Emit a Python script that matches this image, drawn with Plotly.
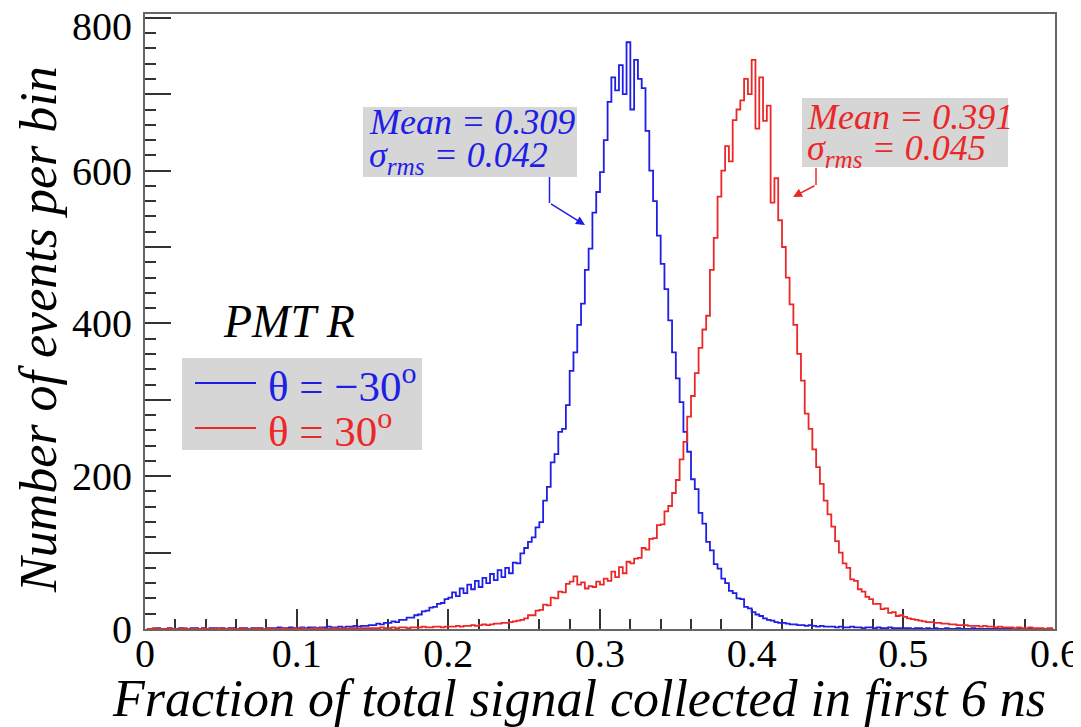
import plotly.graph_objects as go

# ---------------- data ----------------
BIN_WIDTH = 0.0025  # 240 bins from 0 to 0.6

blue_counts = [
    0, 0, 0, 1, 0, 0, 1, 0, 0, 1, 0, 0, 1, 1, 0, 1, 0, 1, 1, 0,
    1, 0, 1, 1, 0, 1, 1, 0, 1, 1, 1, 0, 1, 1, 1, 2, 1, 1, 2, 1,
    1, 2, 1, 2, 2, 1, 2, 2, 3, 2, 2, 3, 2, 3, 3, 4, 3, 4, 4, 5,
    5, 7, 6, 8, 8, 10, 9, 12, 12, 15, 15, 18, 19, 23, 24, 28, 29, 33, 34, 39,
    41, 48, 43, 53, 47, 58, 52, 63, 55, 67, 60, 72, 64, 77, 68, 80, 73, 87, 86, 99,
    106, 114, 120, 133, 140, 168, 186, 218, 229, 258, 262, 293, 338, 362, 398, 426, 470, 498, 545, 572,
    598, 640, 690, 722, 705, 738, 700, 768, 680, 745, 720, 708, 652, 600, 560, 515, 478, 445, 404, 362,
    328, 297, 258, 232, 196, 183, 152, 138, 114, 103, 85, 79, 66, 60, 50, 47, 40, 39, 29, 27,
    22, 19, 17, 14, 12, 11, 9, 8, 8, 7, 6, 6, 5, 5, 4, 5, 4, 3, 4, 3,
    3, 3, 2, 3, 2, 2, 3, 2, 2, 1, 2, 2, 1, 2, 1, 1, 2, 1, 1, 1,
    1, 1, 0, 1, 1, 0, 1, 0, 1, 0, 0, 1, 0, 0, 1, 0, 0, 0, 1, 0,
    0, 0, 0, 0, 0, 0, 0, 0, 0, 0, 0, 0, 0, 0, 0, 0, 0, 0, 0, 0,
]

red_counts = [
    0, 0, 1, 0, 0, 0, 1, 0, 0, 0, 1, 0, 0, 0, 0, 1, 0, 0, 0, 1,
    0, 0, 1, 0, 0, 1, 0, 0, 0, 1, 0, 0, 1, 0, 0, 0, 1, 0, 0, 1,
    0, 1, 0, 0, 1, 0, 1, 0, 0, 1, 1, 0, 1, 0, 1, 1, 0, 1, 1, 1,
    1, 1, 2, 1, 1, 2, 1, 2, 2, 1, 2, 2, 2, 3, 2, 2, 3, 3, 2, 3,
    3, 3, 4, 3, 4, 4, 5, 4, 5, 6, 5, 6, 7, 7, 8, 8, 9, 10, 11, 12,
    14, 18, 18, 24, 25, 32, 31, 41, 40, 49, 48, 59, 62, 69, 58, 61, 53, 56, 55, 62,
    58, 66, 63, 75, 68, 81, 73, 88, 86, 92, 93, 106, 104, 118, 119, 136, 137, 154, 161, 178,
    195, 222, 245, 278, 305, 335, 368, 392, 410, 470, 512, 566, 600, 632, 612, 666, 680, 692, 720, 700,
    745, 655, 722, 665, 685, 558, 590, 535, 500, 460, 425, 398, 360, 325, 282, 262, 235, 212, 190, 168,
    150, 134, 115, 100, 86, 80, 65, 63, 52, 49, 42, 39, 33, 33, 26, 27, 21, 22, 17, 18,
    16, 14, 13, 12, 11, 10, 9, 9, 8, 8, 7, 7, 6, 6, 5, 5, 5, 4, 4, 4,
    3, 4, 3, 3, 2, 3, 2, 2, 2, 1, 2, 1, 1, 2, 1, 1, 1, 0, 1, 1,
]

series_names = ["θ = −30<sup>o</sup>", "θ = 30<sup>o</sup>"]
series_colors = ["#1e1ee6", "#eb2828"]
blue_stats = ["<i>Mean = 0.309</i>", "<i>σ<sub>rms</sub> = 0.042</i>"]
red_stats = ["<i>Mean = 0.391</i>", "<i>σ<sub>rms</sub> = 0.045</i>"]
x_tick_values = [0, 0.1, 0.2, 0.3, 0.4, 0.5, 0.6]
x_tick_labels = ["0", "0.1", "0.2", "0.3", "0.4", "0.5", "0.6"]
y_tick_values = [0, 100, 200, 300, 400, 500, 600, 700, 800]
y_tick_labels = ["0", "", "200", "", "400", "", "600", "", ""]
y_top_label = "800"   # drawn just below its tick, as in the reference
x_title = "<i>Fraction of total signal collected in first 6 ns</i>"
y_title = "<i>Number of events per bin</i>"
panel_label = "<i>PMT R</i>"

# ---------------- figure ----------------
OFF = 8                        # page body margin in the browser
W, H = 1081 - OFF, 727 - OFF   # figure size so the page is 1081x727
L, R, T, B = 145, 1055, 14, 629  # plot-area edges in page pixels
FONT = "Liberation Serif, Times New Roman, Times, serif"


def px(xp):
    return (xp - L) / (R - L)


def py(yp):
    return (B - yp) / (B - T)


centers = [BIN_WIDTH * (i + 0.5) for i in range(len(blue_counts))]

fig = go.Figure()
for counts, name, color in [(blue_counts, series_names[0], series_colors[0]),
                            (red_counts, series_names[1], series_colors[1])]:
    fig.add_trace(go.Scatter(x=centers, y=counts, mode="lines", name=name,
                             line=dict(color=color, width=1.8, shape="hvh"),
                             showlegend=False))

axis_common = dict(showline=True, linecolor="#666666", linewidth=2, mirror=True,
                   ticks="inside", tickcolor="#333333", tickwidth=1.5,
                   showgrid=False, zeroline=False, layer="below traces",
                   automargin=False,
                   tickfont=dict(family=FONT, size=40, color="black"))

fig.update_xaxes(range=[0, 0.6], tickmode="array", tickvals=x_tick_values,
                 ticktext=x_tick_labels, ticklen=20, ticklabelstandoff=-12,
                 minor=dict(dtick=0.02, ticklen=10, ticks="inside",
                            tickcolor="#333333", tickwidth=1.5, showgrid=False),
                 **axis_common)
fig.update_yaxes(range=[0, 805], tickmode="array", tickvals=y_tick_values,
                 ticktext=y_tick_labels, ticklen=26, ticklabelstandoff=3,
                 minor=dict(dtick=20, ticklen=11, ticks="inside",
                            tickcolor="#333333", tickwidth=1.5, showgrid=False),
                 **axis_common)

shapes = []
annotations = []

# top y tick label (kept inside the page)
annotations.append(dict(text=y_top_label, xref="paper", yref="paper",
                        x=px(134), y=py(27), xanchor="right", yanchor="middle",
                        showarrow=False, font=dict(family=FONT, size=40, color="black")))

# axis titles
annotations.append(dict(text=x_title, xref="paper", yref="paper",
                        x=px(579), y=py(698), xanchor="center", yanchor="middle",
                        showarrow=False, font=dict(family=FONT, size=52, color="black")))
annotations.append(dict(text=y_title, xref="paper", yref="paper",
                        x=px(38), y=py(330), xanchor="center", yanchor="middle",
                        textangle=-90, showarrow=False,
                        font=dict(family=FONT, size=52, color="black")))

# stats boxes
for (x0, y0, x1, y1), lines, ys, tx, color in [
    ((363, 107, 577, 177), blue_stats, (122, 157), 367, series_colors[0]),
    ((802, 98, 1008, 167), red_stats, (117, 150), 805, series_colors[1]),
]:
    shapes.append(dict(type="rect", xref="paper", yref="paper",
                       x0=px(x0), x1=px(x1), y0=py(y1), y1=py(y0),
                       fillcolor="#d6d6d6", line=dict(width=0), layer="below"))
    for txt, yy in zip(lines, ys):
        annotations.append(dict(text=txt, xref="paper", yref="paper",
                                x=px(tx), y=py(yy), xanchor="left", yanchor="middle",
                                showarrow=False,
                                font=dict(family=FONT, size=36, color=color)))

# arrows from the boxes to the curves
for (sx, sy0, sy1), (tipx, tipy), color in [
    ((549.5, 177, 203), (585, 225), series_colors[0]),
    ((816, 168, 185), (793, 197), series_colors[1]),
]:
    shapes.append(dict(type="line", xref="paper", yref="paper",
                       x0=px(sx), x1=px(sx), y0=py(sy0), y1=py(sy1),
                       line=dict(color=color, width=1.5)))
    annotations.append(dict(text="", xref="paper", yref="paper",
                            x=px(tipx), y=py(tipy), ax=sx - tipx, ay=sy1 - tipy,
                            showarrow=True, arrowhead=2, arrowsize=1.2,
                            arrowwidth=1.5, arrowcolor=color))

# panel label and legend
annotations.append(dict(text=panel_label, xref="paper", yref="paper",
                        x=px(221), y=py(321), xanchor="left", yanchor="middle",
                        showarrow=False, font=dict(family=FONT, size=46, color="black")))
shapes.append(dict(type="rect", xref="paper", yref="paper",
                   x0=px(182), x1=px(422), y0=py(450), y1=py(358),
                   fillcolor="#d6d6d6", line=dict(width=0), layer="below"))
for name, color, yy in zip(series_names, series_colors, (383, 428)):
    shapes.append(dict(type="line", xref="paper", yref="paper",
                       x0=px(195), x1=px(256), y0=py(yy), y1=py(yy),
                       line=dict(color=color, width=2)))
    annotations.append(dict(text=name, xref="paper", yref="paper",
                            x=px(266), y=py(yy), xanchor="left", yanchor="middle",
                            showarrow=False, font=dict(family=FONT, size=43, color=color)))

fig.update_layout(width=W, height=H,
                  margin=dict(l=L - OFF, r=W - (R - OFF), t=T - OFF, b=H - (B - OFF)),
                  paper_bgcolor="white", plot_bgcolor="white",
                  font=dict(family=FONT),
                  shapes=shapes, annotations=annotations, showlegend=False)

fig.write_html("out.html")
